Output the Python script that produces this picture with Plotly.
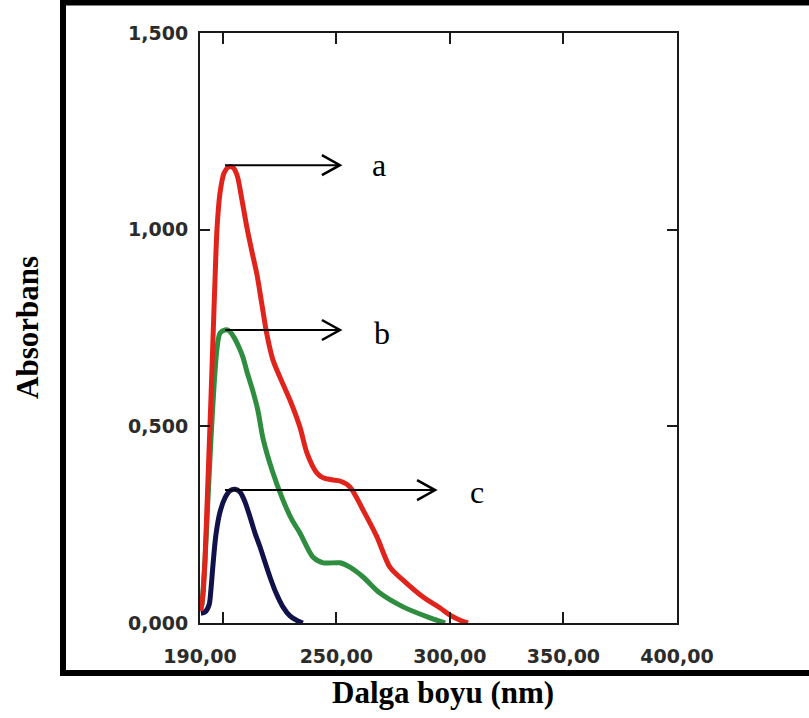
import plotly.graph_objects as go

# ---- data (wavelength nm, absorbance) ----
red_nm = [190.4, 191.3, 192.2, 193.1, 194.0, 194.8, 195.7, 196.6, 197.5, 198.8, 200.6, 202.8, 204.5,
          206.3, 208.5, 210.7, 212.9, 215.1, 217.3, 219.5, 222.1, 226.1, 229.6, 234.0, 237.1, 241.5,
          244.2, 248.1, 251.6, 256.0, 261.8, 267.9, 273.6, 279.4, 288.2, 295.7, 300.1, 305.3, 308.0]
red_abs = [0.031, 0.071, 0.160, 0.300, 0.440, 0.567, 0.719, 0.872, 1.004, 1.093, 1.144, 1.160, 1.158,
           1.139, 1.075, 1.004, 0.943, 0.885, 0.808, 0.732, 0.669, 0.613, 0.567, 0.498, 0.432, 0.381,
           0.369, 0.364, 0.361, 0.346, 0.287, 0.219, 0.142, 0.109, 0.066, 0.038, 0.020, 0.005, 0.0]

green_nm = [190.9, 192.2, 193.5, 194.8, 196.2, 197.5, 198.8, 201.0, 202.8, 205.1, 207.3, 209.0, 210.7,
            212.9, 215.5, 217.7, 221.7, 226.5, 230.5, 234.0, 239.7, 244.2, 251.6, 256.0, 261.8, 269.2,
            279.4, 291.3, 297.9]
green_abs = [0.046, 0.160, 0.313, 0.465, 0.605, 0.699, 0.737, 0.745, 0.743, 0.725, 0.699, 0.674, 0.638,
             0.597, 0.540, 0.470, 0.389, 0.313, 0.262, 0.229, 0.168, 0.153, 0.153, 0.142, 0.117, 0.076,
             0.041, 0.013, 0.0]

navy_nm = [190.4, 192.2, 194.0, 194.8, 195.7, 197.0, 198.8, 201.0, 203.2, 205.4, 207.6, 209.8, 212.0,
           214.2, 216.4, 218.6, 220.8, 223.5, 226.5, 229.6, 233.1, 235.3]
navy_abs = [0.025, 0.028, 0.046, 0.084, 0.147, 0.224, 0.282, 0.318, 0.336, 0.340, 0.333, 0.308, 0.270,
            0.229, 0.194, 0.155, 0.117, 0.076, 0.041, 0.018, 0.005, 0.0]

# tick labels
x_tickvals = [190, 200, 250, 300, 350, 400]
x_ticktext = ["190,00", "", "250,00", "300,00", "350,00", "400,00"]
y_tickvals = [0, 0.5, 1.0, 1.5]
y_ticktext = ["0,000", "0,500", "1,000", "1,500"]

# arrow annotations
arrow_labels = ["a", "b", "c"]
arrow_start_nm = [201.0, 201.0, 201.0]
arrow_end_nm = [251.6, 251.6, 293.5]
arrow_abs = [1.164, 0.745, 0.338]
label_nm = [268.8, 270.3, 311.9]
label_abs = [1.164, 0.737, 0.333]

W, H = 809, 718
PLOT_L, PLOT_R, PLOT_T, PLOT_B = 200, 677, 33, 623
ML, MR, MT, MB = PLOT_L, W - PLOT_R, PLOT_T, H - PLOT_B
X0, X1 = 190, 400
Y0, Y1 = 0, 1.5
px_per_nm = (PLOT_R - PLOT_L) / (X1 - X0)
px_per_abs = (PLOT_B - PLOT_T) / (Y1 - Y0)

fig = go.Figure()
fig.add_trace(go.Scatter(x=navy_nm, y=navy_abs, mode="lines",
                         line=dict(color="#12124a", width=5, shape="spline", smoothing=0.8), name="c"))
fig.add_trace(go.Scatter(x=green_nm, y=green_abs, mode="lines",
                         line=dict(color="#2f8d40", width=5, shape="spline", smoothing=0.8), name="b"))
fig.add_trace(go.Scatter(x=red_nm, y=red_abs, mode="lines",
                         line=dict(color="#e0241c", width=5, shape="spline", smoothing=0.8), name="a"))

tick_font = dict(family="DejaVu Sans", size=19, color="#2b2b2b", weight="bold")

shapes = []
annotations = []
dx = 18 / px_per_nm
dy = 10 / px_per_abs
for lab, xs, xe, ya, lx, ly in zip(arrow_labels, arrow_start_nm, arrow_end_nm, arrow_abs, label_nm, label_abs):
    shapes.append(dict(type="line", xref="x", yref="y", x0=xs, x1=xe, y0=ya, y1=ya,
                       line=dict(color="black", width=2)))
    shapes.append(dict(type="path", xref="x", yref="y",
                       path=f"M {xe-dx},{ya+dy} L {xe},{ya} L {xe-dx},{ya-dy}",
                       line=dict(color="black", width=2.5)))
    annotations.append(dict(x=lx, y=ly, xref="x", yref="y", text=lab, showarrow=False,
                            font=dict(family="Liberation Serif", size=32, color="black"),
                            xanchor="center", yanchor="middle"))


def px_to_paper_x(px):
    return (px - PLOT_L) / (PLOT_R - PLOT_L)


def py_to_paper_y(py):
    return (PLOT_B - py) / (PLOT_B - PLOT_T)


# outer frame (right side runs off the canvas)
shapes.append(dict(type="rect", xref="paper", yref="paper",
                   x0=px_to_paper_x(63), x1=px_to_paper_x(840),
                   y0=py_to_paper_y(673), y1=py_to_paper_y(2.5),
                   line=dict(color="black", width=6), fillcolor="rgba(0,0,0,0)", layer="above"))

annotations.append(dict(x=px_to_paper_x(443), y=py_to_paper_y(692), xref="paper", yref="paper",
                        text="<b>Dalga boyu (nm)</b>", showarrow=False,
                        font=dict(family="Liberation Serif", size=31, color="black"),
                        xanchor="center", yanchor="middle"))
annotations.append(dict(x=px_to_paper_x(27), y=py_to_paper_y(328), xref="paper", yref="paper",
                        text="<b>Absorbans</b>", showarrow=False, textangle=-90,
                        font=dict(family="Liberation Serif", size=31, color="black"),
                        xanchor="center", yanchor="middle"))

fig.update_layout(
    width=W, height=H,
    margin=dict(l=ML, r=MR, t=MT, b=MB, pad=0),
    paper_bgcolor="white", plot_bgcolor="white",
    showlegend=False,
    shapes=shapes, annotations=annotations,
    xaxis=dict(range=[X0, X1], tickvals=x_tickvals, ticktext=x_ticktext,
               ticks="inside", ticklen=11, tickwidth=2, tickcolor="#1a1a1a",
               showline=True, linecolor="#1a1a1a", linewidth=2, mirror="ticks",
               showgrid=False, zeroline=False, tickfont=tick_font, ticklabelstandoff=15),
    yaxis=dict(range=[Y0, Y1], tickvals=y_tickvals, ticktext=y_ticktext,
               ticks="inside", ticklen=10, tickwidth=1.5, tickcolor="#1a1a1a",
               showline=True, linecolor="#1a1a1a", linewidth=2, mirror="ticks",
               showgrid=False, zeroline=False, tickfont=tick_font, ticklabelstandoff=6),
)

fig.write_html("out.html", config={"displayModeBar": False},
               post_script="document.body.style.margin='0';document.body.style.overflow='hidden';")
